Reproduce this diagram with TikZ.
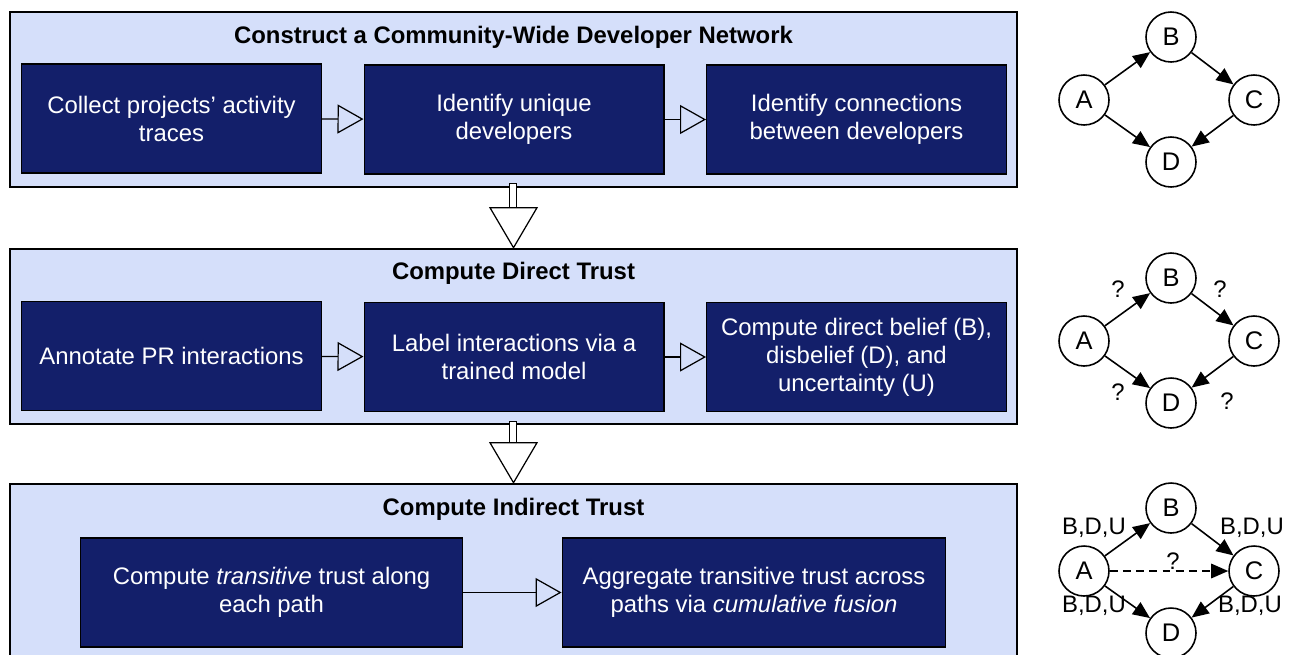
\documentclass[tikz,border=0pt]{standalone}
\usepackage{fontspec}
\setmainfont{Liberation Sans}
\usepackage{tikz}
\usepackage{xcolor}
\usetikzlibrary{arrows.meta, positioning, calc}
\definecolor{panelblue}{HTML}{D5DFFA}
\definecolor{navyblue}{HTML}{131F6A}

\begin{document}
\begin{tikzpicture}[x=0.02cm, y=-0.02cm,
  every node/.style={font=\fontsize{13.6}{15.9}\selectfont},
  panel/.style={draw, line width=0.8pt, fill=panelblue, minimum width=20.14cm, minimum height=3.5cm, inner sep=0},
  paneltitle/.style={font=\fontsize{13.6}{15.9}\selectfont\bfseries},
  stepbox/.style={draw, line width=0.6pt, fill=navyblue, text=white, align=center, minimum width=6cm, minimum height=2.18cm, inner sep=0},
  flowarrow/.style={-{Triangle[open, length=0.52cm, width=0.58cm]}, line width=0.7pt},
  vertex/.style={circle, draw, line width=0.9pt, fill=white, minimum size=1cm, inner sep=0, font=\fontsize{14.5}{16}\selectfont},
  link/.style={-{Triangle[length=0.34cm, width=0.29cm]}, line width=0.9pt},
  elabel/.style={inner sep=0}]
\clip (0,0) rectangle (1295,654);

% Panels
\node[panel] (p1) at (513.5,99.5) {};
\node[panel] (p2) at (513.5,336.5) {};
\node[panel] (p3) at (513.5,571.5) {};
\node[paneltitle] (t1) at (513.5,37) {Construct a Community-Wide Developer Network};
\node[paneltitle] (t2) at (513.5,273) {Compute Direct Trust};
\node[paneltitle] (t3) at (513.5,509) {Compute Indirect Trust};

% Row 1
\node[stepbox] (collect) at (171.5,118.5) {Collect projects’ activity\\traces};
\node[stepbox] (unique) at (514,119.5) {Identify unique\\developers};
\node[stepbox] (connect) at (856.5,119.5) {Identify connections\\between developers};
\draw[flowarrow] (collect) -- (unique);
\draw[flowarrow] (unique) -- (connect);

% Row 2
\node[stepbox] (annotate) at (171.5,356) {Annotate PR interactions};
\node[stepbox] (label) at (514,357) {Label interactions via a\\trained model};
\node[stepbox] (belief) at (856.5,357) {Compute direct belief (B),\\disbelief (D), and\\uncertainty (U)};
\draw[flowarrow] (annotate) -- (label);
\draw[flowarrow] (label) -- (belief);

% Row 3
\node[stepbox, minimum width=7.66cm] (transitive) at (271.5,592.5) {Compute \textit{transitive} trust along\\each path};
\node[stepbox, minimum width=7.68cm] (fusion) at (754,592.5) {Aggregate transitive trust across\\paths via \textit{cumulative fusion}};
\draw[flowarrow] (transitive) -- (fusion);

% Block arrows between panels
\draw[line width=0.7pt, fill=white] ($(p1.south)+(-4,-4)$) rectangle ($(p1.south)+(3,24)$);
\draw[line width=0.7pt, fill=white] ($(p1.south)+(-23.5,20)$) -- ($(p1.south)+(23.5,20)$) -- ($(p1.south)+(0,60)$) -- cycle;
\draw[line width=0.7pt, fill=white] ($(p2.south)+(-4,-3)$) rectangle ($(p2.south)+(3,21)$);
\draw[line width=0.7pt, fill=white] ($(p2.south)+(-23.5,18)$) -- ($(p2.south)+(23.5,18)$) -- ($(p2.south)+(0,58)$) -- cycle;

% Small graphs
\foreach \g/\dy in {1/0, 2/241, 3/471} {
  \node[vertex] (a\g) at (1084,100+\dy) {A};
  \node[vertex] (b\g) at (1171,37+\dy) {B};
  \node[vertex] (c\g) at (1254,100+\dy) {C};
  \node[vertex] (d\g) at (1171,162+\dy) {D};
  \draw[link] (a\g) -- (b\g);
  \draw[link] (b\g) -- (c\g);
  \draw[link] (c\g) -- (d\g);
  \draw[link] (a\g) -- (d\g);
}

% Unknown direct trust
\node[elabel] (q1) at (1118,289) {?};
\node[elabel] (q2) at (1220,289) {?};
\node[elabel] (q3) at (1118,392) {?};
\node[elabel] (q4) at (1227,401) {?};

% Indirect trust
\draw[link, dash pattern={on 4.5pt off 3pt}] (a3) -- (c3);
\node[elabel] (q5) at (1173,561) {?};
\node[elabel] (bdu1) at (1094,528) {B,D,U};
\node[elabel] (bdu2) at (1252,528) {B,D,U};
\node[elabel] (bdu3) at (1094,606) {B,D,U};
\node[elabel] (bdu4) at (1250,606) {B,D,U};
\end{tikzpicture}
\end{document}
